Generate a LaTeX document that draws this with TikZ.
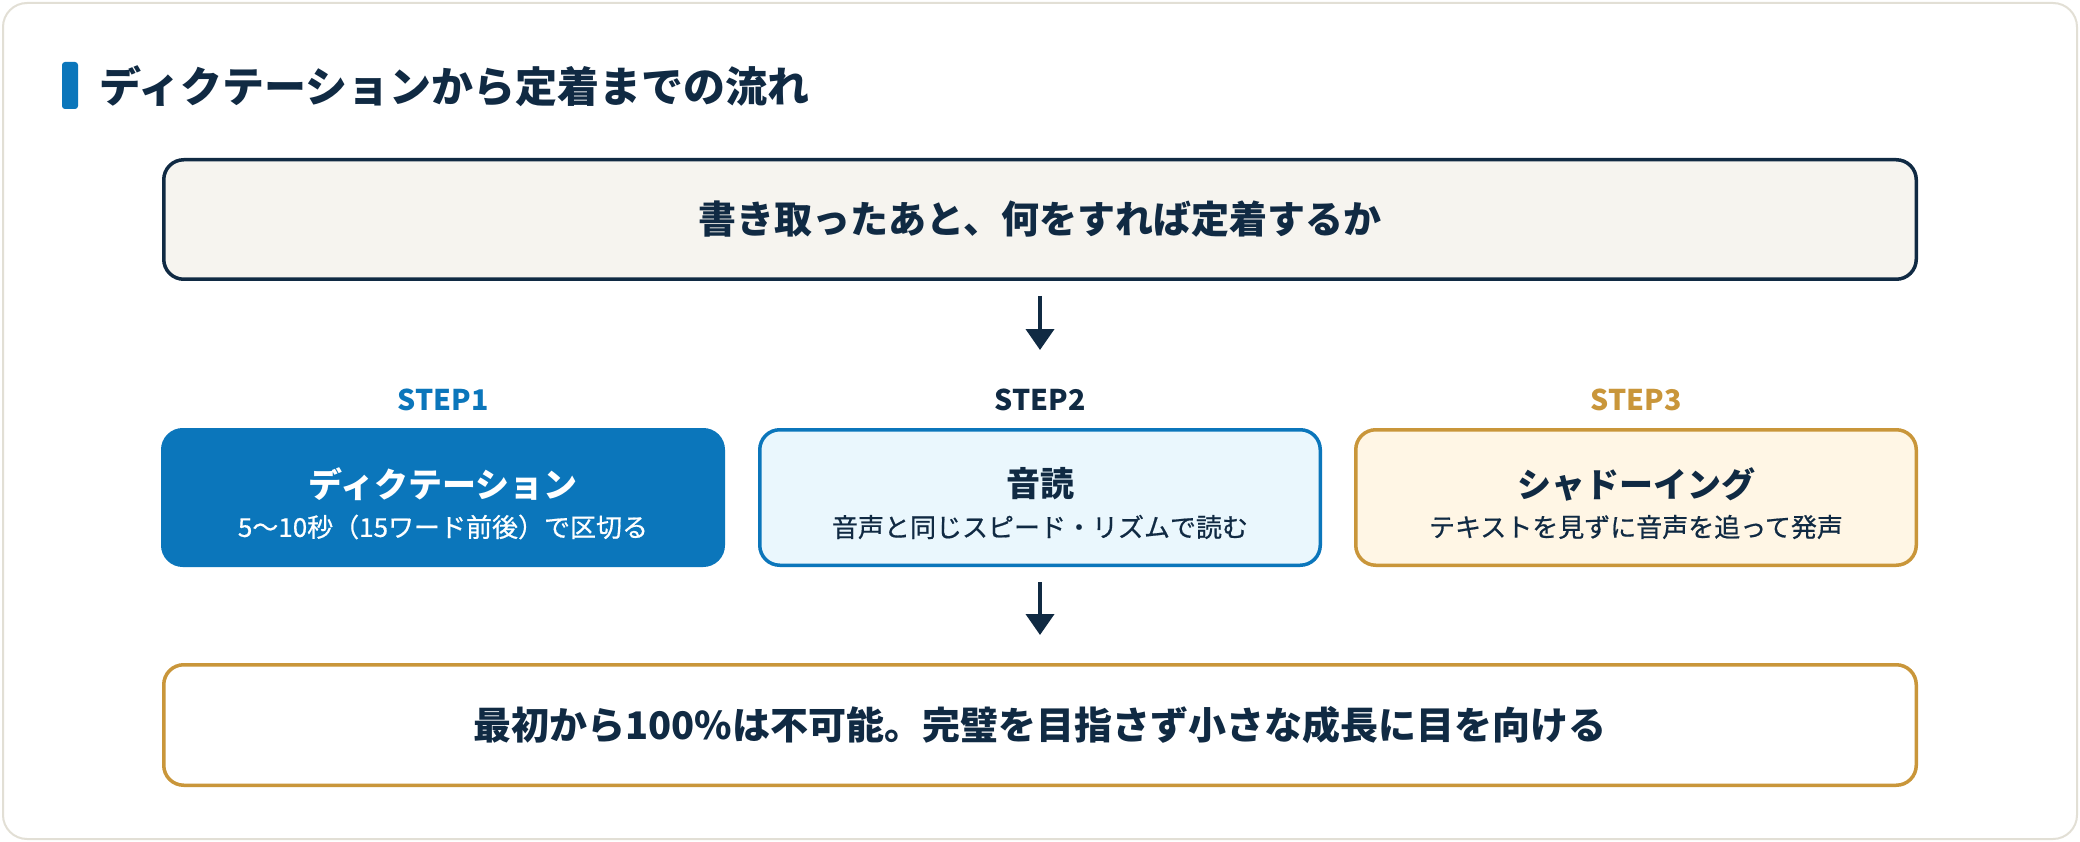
\documentclass[tikz,border=0pt]{standalone}
\usepackage{fontspec}
\setmainfont{Noto Sans CJK JP}
\newfontfamily\notefont[FakeBold=0.6]{Noto Sans CJK JP}
\usetikzlibrary{arrows.meta}
\definecolor{navy}{HTML}{102A43}
\definecolor{stepblue}{HTML}{0B76BB}
\definecolor{gold}{HTML}{C9963A}
\definecolor{cream}{HTML}{F6F4EF}
\definecolor{icecyan}{HTML}{EAF7FD}
\definecolor{paleamber}{HTML}{FFF6E5}
\definecolor{framegray}{HTML}{E2DFD5}
\begin{document}
\begin{tikzpicture}[x=1pt,y=-1pt,
    flowbox/.style={rounded corners=20pt, line width=3.5pt, inner sep=0pt},
    stepbox/.style={flowbox, minimum width=560.5pt, minimum height=135.5pt},
    steplabel/.style={inner sep=0pt, font=\fontsize{28.5}{32}\selectfont\bfseries},
    steptitle/.style={inner sep=0pt, font=\fontsize{34}{40}\selectfont\bfseries},
    stepnote/.style={inner sep=0pt, font=\fontsize{26}{30}\notefont},
    flowarrow/.style={-{Triangle[length=21pt,width=28pt]}, line width=4pt, navy}]
    \useasboundingbox (0,0) rectangle (2080,842);
    \draw[framegray, fill=white, line width=2pt, rounded corners=24pt] (3,3) rectangle (2077,839);
    % heading
    \fill[stepblue, rounded corners=3pt] (62,62) rectangle (78,109);
    \node[anchor=west, inner sep=0pt, navy, font=\fontsize{42}{50}\selectfont\bfseries] (heading) at (99,86) {ディクテーションから定着までの流れ};
    % question
    \node[flowbox, draw=navy, fill=cream, minimum width=1752.5pt, minimum height=119.5pt,
        text=navy, font=\fontsize{38}{44}\selectfont\bfseries] (question) at (1040,219.5) {書き取ったあと、何をすれば定着するか};
    % steps
    \node[steplabel, stepblue] (label1) at (443,399.5) {STEP1};
    \node[steplabel, navy] (label2) at (1040,399.5) {STEP2};
    \node[steplabel, gold] (label3) at (1636,399.5) {STEP3};
    \node[stepbox, draw=stepblue, fill=stepblue] (step1) at (443,497.5) {};
    \node[stepbox, draw=stepblue, fill=icecyan] (step2) at (1040,497.5) {};
    \node[stepbox, draw=gold, fill=paleamber] (step3) at (1636,497.5) {};
    \node[steptitle, white] (title1) at (443,484) {ディクテーション};
    \node[stepnote, white] (note1) at (443,527) {5〜10秒（15ワード前後）で区切る};
    \node[steptitle, navy] (title2) at (1040,484) {音読};
    \node[stepnote, navy] (note2) at (1040,527) {音声と同じスピード・リズムで読む};
    \node[steptitle, navy] (title3) at (1636,484) {シャドーイング};
    \node[stepnote, navy] (note3) at (1636,527) {テキストを見ずに音声を追って発声};
    % conclusion
    \node[flowbox, draw=gold, fill=white, minimum width=1752.5pt, minimum height=120.5pt,
        text=navy, font=\fontsize{38}{44}\selectfont\bfseries] (goal) at (1040,725) {最初から100\%は不可能。完璧を目指さず小さな成長に目を向ける};
    \draw[flowarrow, shorten <=15pt, shorten >=78pt] (question.south) -- (step2.north);
    \draw[flowarrow, shorten <=15pt, shorten >=28pt] (step2.south) -- (goal.north);
\end{tikzpicture}
\end{document}
